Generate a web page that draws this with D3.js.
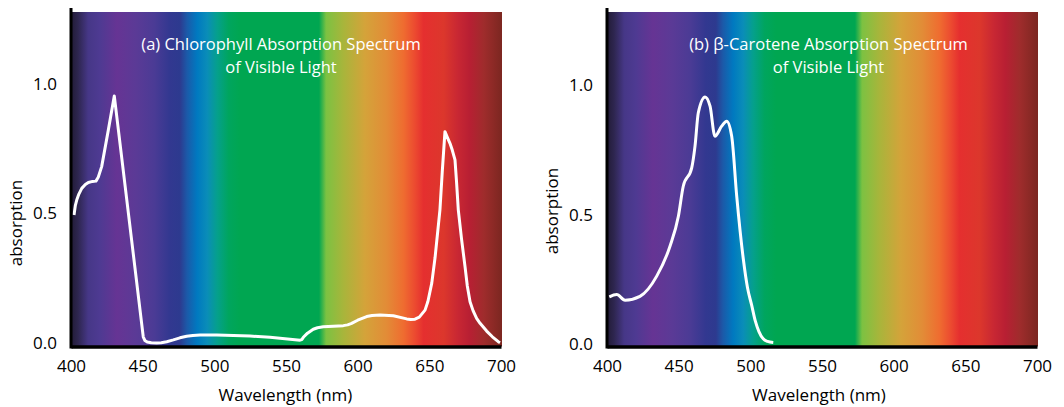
<!DOCTYPE html>
<html>
<head>
<meta charset="utf-8">
<script src="https://cdn.jsdelivr.net/npm/d3@7"></script>
<style>
	body { margin: 0; background: #ffffff; }
	svg { display: block; font-family: 'Open Sans', sans-serif; }
</style>
</head>
<body>
<div id="chart"></div>
<script>

// values (wavelength in nm, absorption 0..1)
var chlWavelength = [402.1, 403, 404, 405.5, 407.5, 410, 412.1, 415, 417.4, 419, 421.4, 426, 430.2,
	450.4, 451.5, 453.2, 456, 459.8, 463, 466.8, 471.4, 476, 480.7, 485, 490, 501.7, 524.9, 538.8, 559.8,
	561, 562.1, 565, 569, 572, 576, 590, 593, 595.8, 600, 606.3, 610, 615.6, 624.9, 634.2, 637, 640,
	643, 647, 649, 651.7, 654, 657.4, 659, 660.9, 662.5, 664.4, 666, 667.9, 669, 670.2, 672.5, 674.9,
	676.5, 678.4, 680.5, 683, 685.4, 690, 694, 698.1, 699.3];
var chlAbsorption = [0.494, 0.53, 0.552, 0.575, 0.597, 0.612, 0.62, 0.624, 0.625, 0.64, 0.681, 0.821, 0.954,
	0.024, 0.01, 0.004, 0.001, 0.0, 0.001, 0.005, 0.012, 0.02, 0.026, 0.029, 0.031, 0.031, 0.027, 0.022, 0.011,
	0.013, 0.022, 0.038, 0.053, 0.059, 0.063, 0.067, 0.07, 0.076, 0.088, 0.102, 0.106, 0.108, 0.105, 0.093, 0.091, 0.092,
	0.1, 0.127, 0.16, 0.231, 0.33, 0.514, 0.66, 0.816, 0.795, 0.771, 0.745, 0.707, 0.62, 0.514, 0.4, 0.295,
	0.22, 0.159, 0.125, 0.095, 0.076, 0.046, 0.024, 0.005, 0.001];

var carWavelength = [401.6, 406.8, 412.6, 423, 434.7, 444, 449.8, 453.2, 459.1, 461.4, 463.7, 468.4, 471.9,
	475.3, 480, 483.5, 487, 490.5, 495.1, 498, 501, 503.5, 506, 509, 512, 516];
var carAbsorption = [0.184, 0.193, 0.171, 0.186, 0.264, 0.38, 0.495, 0.611, 0.682, 0.766, 0.895, 0.956, 0.92,
	0.804, 0.843, 0.862, 0.804, 0.573, 0.33, 0.22, 0.15, 0.09, 0.05, 0.022, 0.012, 0.008];

var xTicks = [400, 450, 500, 550, 600, 650, 700];
var yTicks = [0.0, 0.5, 1.0];

var titlesA = ['(a) Chlorophyll Absorption Spectrum', 'of Visible Light'];
var titlesB = ['(b) \u03b2-Carotene Absorption Spectrum', 'of Visible Light'];

// visible spectrum colour stops behind each plot
var spectrumNm = [400, 405, 412, 420, 432, 445, 458, 469, 476, 481, 488, 495, 502, 510, 518, 573, 578,
	590, 605, 620, 632, 640, 646, 660, 670, 678, 688, 700];
var spectrumColor = ['#221b36', '#2e2650', '#463787', '#4e3a92', '#663494', '#5b3a96', '#4b3b95', '#323890',
	'#2d3a8f', '#1b5aa9', '#0079c0', '#0a8db8', '#05a08c', '#00a55e', '#00a651', '#00a651', '#7cc242',
	'#a8b53b', '#d4a33a', '#e28c37', '#ef6c30', '#ec4a30', '#e52f2f', '#dc372c', '#c82733', '#b81f33',
	'#9f2c2c', '#7d2721'];


var svg = d3.select('#chart')
			.append('svg')
				.attr('width', 1064)
				.attr('height', 407);

var defs = svg.append('defs');


function appendSpectrum(idInput, xScale) {

	var grad = defs.append('linearGradient')
			.attr('id', idInput)
			.attr('gradientUnits', 'userSpaceOnUse')
			.attr('x1', xScale(400))
			.attr('x2', xScale(700))
			.attr('y1', 0)
			.attr('y2', 0);

	grad.selectAll('stop')
		.data(spectrumNm)
		.enter()
		.append('stop')
			.attr('offset', function(d) { return (d - 400) / 300; })
			.attr('stop-color', function(d, i) { return spectrumColor[i]; });
};


function drawPanel(idInput, left, right, zero, axisY, top, wavelengths, values, curveType, titles, titleX, labelX, labelY, xLabelX) {

	var x = d3.scaleLinear().domain([400, 700]).range([left, right]);
	var y = d3.scaleLinear().domain([0, 1]).range([zero, zero - 259]);

	appendSpectrum(idInput + '_grad', x);

	var g = svg.append('g').attr('id', idInput);

	g.append('rect')
		.attr('x', x(400))
		.attr('y', top)
		.attr('width', x(700) - x(400) + 1)
		.attr('height', axisY - top)
		.style('fill', 'url(#' + idInput + '_grad)');

	// titles inside the plot
	g.selectAll('.title')
		.data(titles)
		.enter()
		.append('text')
			.attr('class', 'title')
			.attr('x', titleX)
			.attr('y', function(d, i) { return 50 + i * 23; })
			.attr('text-anchor', 'middle')
			.style('fill', 'white')
			.style('font-size', '16.5px')
			.text(function(d) { return d; });

	var line = d3.line()
			.x(function(d) { return x(d); })
			.y(function(d, i) { return y(values[i]); })
			.curve(curveType);

	g.append('path')
		.datum(wavelengths)
		.attr('d', line)
		.style('fill', 'none')
		.style('stroke', 'white')
		.style('stroke-width', 3)
		.style('stroke-linejoin', 'round');

	// x axis
	var xAxis = g.append('g')
			.attr('transform', 'translate(0,' + axisY + ')')
			.call(d3.axisBottom(x).tickValues(xTicks).tickSize(0).tickPadding(13));
	xAxis.select('.domain').style('stroke', 'black').style('stroke-width', 3.5);
	xAxis.selectAll('.tick text').style('font-size', '17px').style('fill', 'black').style('font-family', "'Open Sans', sans-serif");

	// y axis
	var yAxis = g.append('g')
			.attr('transform', 'translate(' + x(400) + ',0)')
			.call(d3.axisLeft(y).tickValues(yTicks).tickFormat(d3.format('.1f')).tickSize(0).tickPadding(14));
	yAxis.select('.domain')
		.attr('d', 'M0,' + (axisY + 2) + 'V' + (top - 4))
		.style('stroke', 'black')
		.style('stroke-width', 3);
	yAxis.selectAll('.tick text').style('font-size', '17px').style('fill', 'black').style('font-family', "'Open Sans', sans-serif");

	g.append('text')
		.attr('transform', 'translate(' + labelX + ',' + labelY + ') rotate(-90)')
		.attr('text-anchor', 'middle')
		.style('font-size', '17px')
		.style('fill', 'black')
		.text('absorption');

	g.append('text')
		.attr('x', xLabelX)
		.attr('y', 401)
		.attr('text-anchor', 'middle')
		.style('font-size', '17px')
		.style('fill', 'black')
		.text('Wavelength (nm)');
};


drawPanel('panelA', 71, 501, 343, 346.5, 12, chlWavelength, chlAbsorption, d3.curveLinear, titlesA, 281, 22, 223, 285.5);
drawPanel('panelB', 607, 1037, 344.5, 346.5, 12, carWavelength, carAbsorption, d3.curveMonotoneX, titlesB, 828.5, 557.5, 211, 819);

</script>
</body>
</html>
